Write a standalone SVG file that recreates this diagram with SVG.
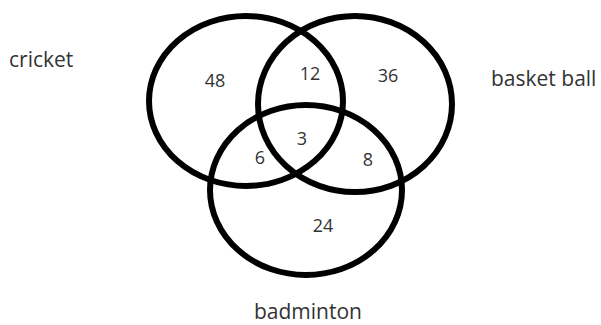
<svg xmlns="http://www.w3.org/2000/svg" width="601" height="325" viewBox="0 0 601 325">
<style>
.c{fill:none;stroke:#000;stroke-width:6}
.n{font-family:"Open Sans","Noto Sans",sans-serif;font-size:18px;fill:#333;text-anchor:middle}
.l{font-family:"Open Sans","Noto Sans",sans-serif;font-size:21px;fill:#333}
</style>
<rect width="601" height="325" fill="#fff"/>
<g id="cricket">
<ellipse class="c" cx="246" cy="101" rx="97" ry="85"/>
<text class="l" x="9" y="67">cricket</text>
</g>
<g id="basketball">
<ellipse class="c" cx="355" cy="104" rx="97" ry="88"/>
<text class="l" x="491" y="86">basket ball</text>
</g>
<g id="badminton">
<ellipse class="c" cx="306" cy="190" rx="96" ry="85"/>
<text class="l" x="254" y="319">badminton</text>
</g>
<g id="numbers">
<text class="n" x="215" y="87">48</text>
<text class="n" x="310" y="80">12</text>
<text class="n" x="388" y="82">36</text>
<text class="n" x="302" y="145">3</text>
<text class="n" x="260" y="164">6</text>
<text class="n" x="368" y="166">8</text>
<text class="n" x="323" y="232">24</text>
</g>
<g id="connectors"></g>
</svg>
